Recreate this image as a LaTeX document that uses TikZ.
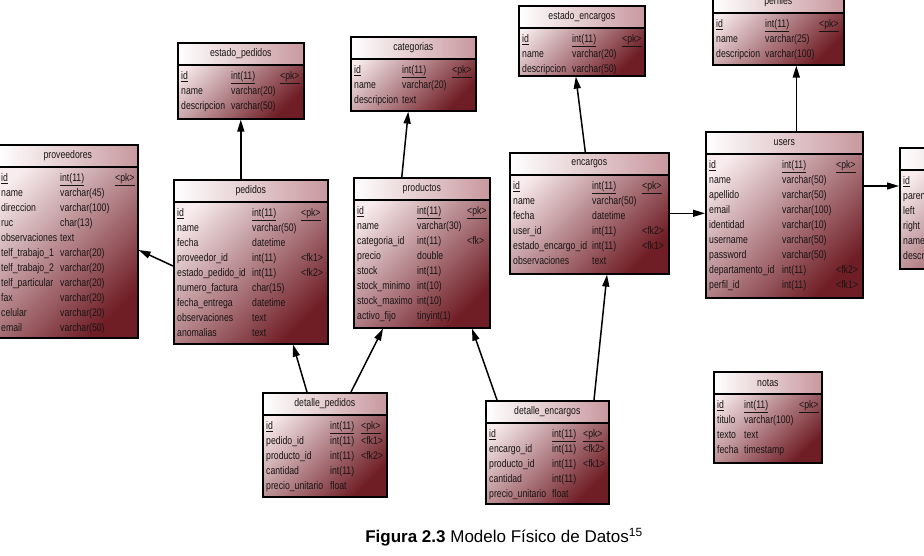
\documentclass[tikz,border=0pt]{standalone}
\usepackage{fontspec}
\setmainfont{Liberation Sans}
\newfontfamily\erfont{Liberation Sans}[FakeStretch=0.79]
\usetikzlibrary{arrows.meta,calc,positioning}

\definecolor{erclaro}{RGB}{248,236,238}
\definecolor{eroscuro}{RGB}{112,30,38}
\definecolor{ercab}{RGB}{200,152,158}
\definecolor{ertexto}{RGB}{25,20,20}

\tikzset{
  tabla/.style={draw=black, line width=1.6pt, anchor=north west, inner sep=0pt,
    top color=erclaro, bottom color=eroscuro, shading angle=45},
  cabecera/.style={draw=black, line width=1.6pt, anchor=north west, inner sep=0pt,
    minimum height=22pt, left color=white, right color=ercab,
    font=\erfont\fontsize{11}{13}\selectfont, text=ertexto},
  fila/.style={anchor=west, inner sep=0pt, text height=8pt, text depth=2.2pt,
    font=\erfont\fontsize{11}{13}\selectfont, text=ertexto},
  fk/.style={-{Triangle[length=12pt,width=7pt]}, line width=1.5pt},
  pie/.style={font=\fontsize{17}{20}\selectfont}
}

% #1 node, #2 corner, #3 width, #4 height, #5 title,
% #6 type column, #7 key column, #8 fields
\newcommand{\tabla}[8]{%
  \node[tabla, minimum width=#3pt, minimum height=#4pt] (#1) at (#2) {};
  \node[cabecera, minimum width=#3pt] (#1-h) at (#1.north west) {#5};
  \foreach \campo/\tipo/\clave [count=\i] in {#8} {
    \node[fila] (#1-c\i) at ($(#1-h.south west)+(4,{11+15*(\i-1)})$) {\campo};
    \node[fila] (#1-t\i) at ($(#1-h.south west)+(#6,{11+15*(\i-1)})$) {\tipo};
    \node[fila] (#1-k\i) at ($(#1-h.south west)+(#7,{11+15*(\i-1)})$) {\clave};
  }
}

\begin{document}
\begin{tikzpicture}[x=1pt,y=-1pt]
  \useasboundingbox (0,0) rectangle (924,555);
  \clip (0,0) rectangle (924,555);

  \tabla{proveedores}{-3,144}{140}{193}{proveedores}{63}{118}{
    \underline{id}/\underline{int(11)}/\underline{<pk>},
    name/varchar(45)/, direccion/varchar(100)/, ruc/char(13)/,
    observaciones/text/, telf\_trabajo\_1/varchar(20)/,
    telf\_trabajo\_2/varchar(20)/, telf\_particular/varchar(20)/,
    fax/varchar(20)/, celular/varchar(20)/, email/varchar(50)/}

  \tabla{estadopedidos}{177,42}{126}{76}{estado\_pedidos}{54}{103}{
    \underline{id}/\underline{int(11)}/\underline{<pk>},
    name/varchar(20)/, descripcion/varchar(50)/}

  \tabla{pedidos}{173,179}{154}{164}{pedidos}{79}{128}{
    \underline{id}/\underline{int(11)}/\underline{<pk>},
    name/varchar(50)/, fecha/datetime/,
    proveedor\_id/int(11)/<fk1>, estado\_pedido\_id/int(11)/<fk2>,
    numero\_factura/char(15)/, fecha\_entrega/datetime/,
    observaciones/text/, anomalias/text/}

  \tabla{categorias}{350,36}{125}{74}{categorias}{52}{102}{
    \underline{id}/\underline{int(11)}/\underline{<pk>},
    name/varchar(20)/, descripcion/text/}

  \tabla{productos}{353,177}{136}{150}{productos}{64}{114}{
    \underline{id}/\underline{int(11)}/\underline{<pk>},
    name/varchar(30)/, categoria\_id/int(11)/<fk>, precio/double/,
    stock/int(11)/, stock\_minimo/int(10)/, stock\_maximo/int(10)/,
    activo\_fijo/tinyint(1)/}

  \tabla{estadoencargos}{518,5}{126}{70}{estado\_encargos}{54}{104}{
    \underline{id}/\underline{int(11)}/\underline{<pk>},
    name/varchar(20)/, descripcion/varchar(50)/}

  \tabla{encargos}{509,152}{159}{121}{encargos}{83}{133}{
    \underline{id}/\underline{int(11)}/\underline{<pk>},
    name/varchar(50)/, fecha/datetime/, user\_id/int(11)/<fk2>,
    estado\_encargo\_id/int(11)/<fk1>, observaciones/text/}

  \tabla{perfiles}{712,-10}{131}{74}{perfiles}{53}{107}{
    \underline{id}/\underline{int(11)}/\underline{<pk>},
    name/varchar(25)/, descripcion/varchar(100)/}

  \tabla{users}{705,131}{157}{166}{users}{77}{131}{
    \underline{id}/\underline{int(11)}/\underline{<pk>},
    name/varchar(50)/, apellido/varchar(50)/, email/varchar(100)/,
    identidad/varchar(10)/, username/varchar(50)/, password/varchar(50)/,
    departamento\_id/int(11)/<fk2>, perfil\_id/int(11)/<fk1>}

  \tabla{deptos}{899,147}{150}{121}{}{80}{130}{
    \underline{id}//, parent\_id//, left//, right//, name//, descripcion//}

  \tabla{notas}{713,371}{108}{91}{notas}{31}{86}{
    \underline{id}/\underline{int(11)}/\underline{<pk>},
    titulo/varchar(100)/, texto/text/, fecha/timestamp/}

  \tabla{detallepedidos}{262,392}{124}{104}{detalle\_pedidos}{68}{99}{
    \underline{id}/\underline{int(11)}/\underline{<pk>},
    pedido\_id/int(11)/<fk1>, producto\_id/int(11)/<fk2>,
    cantidad/int(11)/, precio\_unitario/float/}

  \tabla{detalleencargos}{485,400}{123}{103}{detalle\_encargos}{67}{98}{
    \underline{id}/\underline{int(11)}/\underline{<pk>},
    encargo\_id/int(11)/<fk2>, producto\_id/int(11)/<fk1>,
    cantidad/int(11)/, precio\_unitario/float/}

  % foreign keys
  \draw[fk] (pedidos.north -| estadopedidos.south) -- (estadopedidos.south);
  \draw[fk] ($(pedidos.north west)+(0,87)$) -- ($(proveedores.north east)+(0,106)$);
  \draw[fk] ($(productos.north)+(-20,0)$) -- ($(categorias.south)+(-5,0)$);
  \draw[fk] ($(encargos.north)+(-4,0)$) -- ($(estadoencargos.south)+(-6,0)$);
  \draw[fk] (encargos.east) -- (users.west |- encargos.east);
  \draw[fk] ($(users.north)+(12,0)$) coordinate (u) -- (u |- perfiles.south);
  \draw[fk] ($(deptos.north west)+(0,39)$) coordinate (d) (d -| users.east) -- (d);
  \draw[fk] ($(detallepedidos.north west)+(45,0)$) -- ($(pedidos.south west)+(120,0)$);
  \draw[fk] ($(detallepedidos.north west)+(89,0)$) -- ($(productos.south west)+(30,0)$);
  \draw[fk] ($(detalleencargos.north west)+(12,0)$) -- ($(productos.south west)+(119,0)$);
  \draw[fk] ($(detalleencargos.north west)+(109,0)$) -- ($(encargos.south west)+(98,0)$);

  \node[pie] (pie) at (504,537) {\textbf{Figura 2.3} Modelo Físico de Datos\textsuperscript{15}};
\end{tikzpicture}
\end{document}
